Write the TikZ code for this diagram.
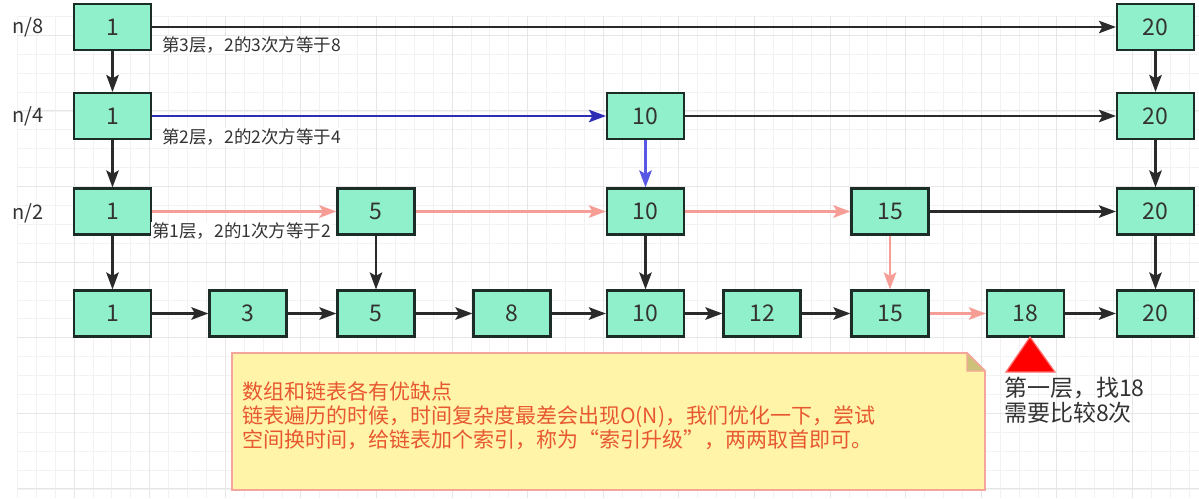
\documentclass[tikz,border=0pt]{standalone}
\usepackage{fontspec}
\setmainfont{Noto Sans CJK SC}
\usetikzlibrary{arrows.meta}
\definecolor{mint}{RGB}{145,240,204}
\definecolor{boxline}{RGB}{28,44,38}
\definecolor{txt}{RGB}{51,51,51}
\definecolor{arr}{RGB}{42,42,42}
\definecolor{darkblue}{RGB}{44,44,180}
\definecolor{lightblue}{RGB}{88,88,228}
\definecolor{pinkarr}{RGB}{246,158,150}
\definecolor{notefill}{RGB}{255,244,168}
\definecolor{noteline}{RGB}{244,166,154}
\definecolor{notefold}{RGB}{205,192,120}
\definecolor{notetxt}{RGB}{232,88,48}
\definecolor{gridminor}{RGB}{242,242,242}
\definecolor{gridmajor}{RGB}{230,230,230}
\tikzset{
  box/.style={draw=boxline, line width=2.2pt, fill=mint, minimum width=77pt,
    minimum height=46pt, inner sep=0pt, text=txt,
    font=\fontsize{23}{26}\selectfont},
  link/.style={draw=arr, line width=2.3pt,
    -{Stealth[length=17pt,width=12.5pt,inset=3.5pt]}},
  bluelink/.style={link, draw=darkblue},
  lbluelink/.style={link, draw=lightblue},
  pinklink/.style={link, draw=pinkarr},
  elabel/.style={anchor=west, inner sep=1pt, fill=white, text=txt,
    font=\fontsize{17.5}{20}\selectfont},
  rowlabel/.style={text=txt, font=\fontsize{20}{24}\selectfont},
}
\begin{document}
\begin{tikzpicture}[x=1pt,y=-1pt]
\useasboundingbox (0,0) rectangle (1199,498);
\fill[white] (0,0) rectangle (1199,498);
% grid
\foreach \i in {0,...,62}{
  \pgfmathsetmacro\xx{17.3+18.9*\i}
  \draw[gridminor, line width=0.8pt] (\xx,16.4) -- (\xx,498);
}
\foreach \i in {0,...,25}{
  \pgfmathsetmacro\yy{16.4+18.9*\i}
  \draw[gridminor, line width=0.8pt] (17.3,\yy) -- (1199,\yy);
}
\foreach \i in {0,...,14}{
  \pgfmathsetmacro\xx{74+75.6*\i}
  \draw[gridmajor, line width=1pt] (\xx,16.4) -- (\xx,498);
}
\foreach \i in {0,...,6}{
  \pgfmathsetmacro\yy{35.3+75.6*\i}
  \draw[gridmajor, line width=1pt] (17.3,\yy) -- (1199,\yy);
}
% row labels
\node[rowlabel] (r8) at (28,27) {n/8};
\node[rowlabel] (r4) at (28,116) {n/4};
\node[rowlabel] (r2) at (28,213) {n/2};
% level 3
\node[box] (a1) at (112.5,27) {1};
\node[box] (a20) at (1155.5,27) {20};
% level 2
\node[box] (b1) at (112.5,116) {1};
\node[box] (b10) at (645.5,116) {10};
\node[box] (b20) at (1155.5,116) {20};
% level 1
\node[box] (c1) at (112.5,211.5) {1};
\node[box] (c5) at (376,211.5) {5};
\node[box] (c10) at (645.5,211.5) {10};
\node[box] (c15) at (890,211.5) {15};
\node[box] (c20) at (1155.5,211.5) {20};
% base
\node[box] (d1) at (112.5,313.5) {1};
\node[box] (d3) at (248,313.5) {3};
\node[box] (d5) at (376,313.5) {5};
\node[box] (d8) at (512,313.5) {8};
\node[box] (d10) at (645.5,313.5) {10};
\node[box] (d12) at (762,313.5) {12};
\node[box] (d15) at (890,313.5) {15};
\node[box] (d18) at (1025.5,313.5) {18};
\node[box] (d20) at (1155.5,313.5) {20};
% connectors
\draw[link] (a1) -- (a20);
\draw[link] (a1) -- (b1);
\draw[link] (a20) -- (b20);
\draw[bluelink] (b1) -- (b10);
\draw[link] (b10) -- (b20);
\draw[link] (b1) -- (c1);
\draw[lbluelink] (b10) -- (c10);
\draw[link] (b20) -- (c20);
\draw[pinklink] (c1) -- (c5);
\draw[pinklink] (c5) -- (c10);
\draw[pinklink] (c10) -- (c15);
\draw[link] (c15) -- (c20);
\draw[link] (c1) -- (d1);
\draw[link] (c5) -- (d5);
\draw[link] (c10) -- (d10);
\draw[pinklink] (c15) -- (d15);
\draw[link] (c20) -- (d20);
\draw[link] (d1) -- (d3);
\draw[link] (d3) -- (d5);
\draw[link] (d5) -- (d8);
\draw[link] (d8) -- (d10);
\draw[link] (d10) -- (d12);
\draw[link] (d12) -- (d15);
\draw[pinklink] (d15) -- (d18);
\draw[link] (d18) -- (d20);
% edge labels
\node[elabel] (l3) at (161,45) {第3层，2的3次方等于8};
\node[elabel] (l2) at (161,137) {第2层，2的2次方等于4};
\node[elabel] (l1) at (151,231) {第1层，2的1次方等于2};
% note
\filldraw[fill=notefill, draw=noteline, line width=1.8pt]
  (232,353) -- (967,353) -- (985,371) -- (985,490) -- (232,490) -- cycle;
\filldraw[fill=notefold, draw=noteline, line width=1.2pt]
  (967,353) -- (985,371) -- (967,371) -- cycle;
\node[anchor=west, align=left, inner sep=0pt, text=notetxt,
  font=\fontsize{21}{24}\selectfont] (note) at (242,416)
  {数组和链表各有优缺点\\
   链表遍历的时候，时间复杂度最差会出现O(N)，我们优化一下，尝试\\
   空间换时间，给链表加个索引，称为“索引升级”，两两取首即可。};
% marker
\filldraw[fill=red, draw=red!55!white, line width=1.2pt]
  (1030,337) -- (1055,372) -- (1006,372) -- cycle;
\node[anchor=west, align=left, inner sep=0pt, text=txt,
  font=\fontsize{23}{25}\selectfont] (find) at (1004,400)
  {第一层，找18\\需要比较8次};
\end{tikzpicture}
\end{document}
